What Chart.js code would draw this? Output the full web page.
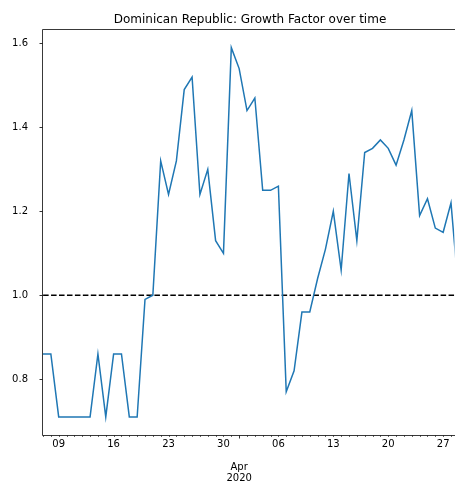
<!DOCTYPE html>
<html>
<head>
<meta charset="utf-8">
<script src="https://cdn.jsdelivr.net/npm/chart.js@4"></script>
<style>
html,body{margin:0;padding:0;background:#fff;overflow:hidden;}
canvas{display:block;}
</style>
</head>
<body>
<canvas id="c" width="455" height="481"></canvas>
<script>
// ---- data ----
const startDate = '2020-03-07';
const days = [
 '2020-03-07','2020-03-08','2020-03-09','2020-03-10','2020-03-11','2020-03-12','2020-03-13',
 '2020-03-14','2020-03-15','2020-03-16','2020-03-17','2020-03-18','2020-03-19','2020-03-20',
 '2020-03-21','2020-03-22','2020-03-23','2020-03-24','2020-03-25','2020-03-26','2020-03-27',
 '2020-03-28','2020-03-29','2020-03-30','2020-03-31','2020-04-01','2020-04-02','2020-04-03',
 '2020-04-04','2020-04-05','2020-04-06','2020-04-07','2020-04-08','2020-04-09','2020-04-10',
 '2020-04-11','2020-04-12','2020-04-13','2020-04-14','2020-04-15','2020-04-16','2020-04-17',
 '2020-04-18','2020-04-19','2020-04-20','2020-04-21','2020-04-22','2020-04-23','2020-04-24',
 '2020-04-25','2020-04-26','2020-04-27','2020-04-28','2020-04-29'
];
const growth = [
 0.86,0.86,0.71,0.71,0.71,0.71,0.71,
 0.86,0.71,0.86,0.86,0.71,0.71,0.99,
 1.00,1.32,1.24,1.32,1.49,1.52,1.24,
 1.30,1.13,1.10,1.59,1.54,1.44,1.47,
 1.25,1.25,1.26,0.77,0.82,0.96,0.96,
 1.04,1.11,1.20,1.06,1.29,1.13,1.34,
 1.35,1.37,1.35,1.31,1.37,1.44,1.19,
 1.23,1.16,1.15,1.22,1.00
];
const threshold = 1.0;
const weekTickDays = ['2020-03-09','2020-03-16','2020-03-23','2020-03-30','2020-04-06','2020-04-13','2020-04-20','2020-04-27'];
const weekTickLabels = ['09','16','23','30','06','13','20','27'];
const monthTickDay = '2020-04-01';
const monthTickLabel = ['', '', 'Apr', '2020'];
const yTicks = [0.8, 1.0, 1.2, 1.4, 1.6];
const yMin = 0.667, yMax = 1.632;
const xMaxDays = 52.44;
const title = 'Dominican Republic: Growth Factor over time';

// ---- helpers ----
const DAY = 86400000;
const t0 = Date.parse(startDate + 'T00:00:00Z');
const dayIndex = d => Math.round((Date.parse(d + 'T00:00:00Z') - t0) / DAY);
const labelMap = {};
weekTickDays.forEach((d, i) => labelMap[dayIndex(d)] = weekTickLabels[i]);
const monthIdx = dayIndex(monthTickDay);
labelMap[monthIdx] = monthTickLabel;
const lastDay = dayIndex(days[days.length - 1]);

const series = days.map((d, i) => ({x: dayIndex(d), y: growth[i]}));
const refLine = [{x: -1, y: threshold}, {x: lastDay + 5, y: threshold}];

const FONT = 'DejaVu Sans';

const axesPlugin = {
  id: 'mplAxes',
  afterDatasetsDraw(chart) {
    const {ctx, chartArea: a} = chart;
    const xs = chart.scales.x, ys = chart.scales.y;
    ctx.save();
    ctx.strokeStyle = '#000';
    // x ticks
    for (let i = 0; i <= Math.floor(xs.max); i++) {
      const px = Math.round(xs.getPixelForValue(i)) + 0.5;
      const major = (i === monthIdx);
      ctx.lineWidth = major ? 0.8 : 0.6;
      ctx.beginPath();
      ctx.moveTo(px, a.bottom);
      ctx.lineTo(px, a.bottom + (major ? 3.5 : 2));
      ctx.stroke();
    }
    // y ticks
    ctx.lineWidth = 0.8;
    yTicks.forEach(v => {
      const py = Math.round(ys.getPixelForValue(v)) + 0.5;
      ctx.beginPath();
      ctx.moveTo(a.left - 3.5, py);
      ctx.lineTo(a.left, py);
      ctx.stroke();
    });
    // spines
    ctx.lineWidth = 0.9;
    ctx.strokeStyle = '#222';
    ctx.beginPath();
    ctx.moveTo(a.left - 0.5, a.top - 0.5);
    ctx.lineTo(a.left - 0.5, a.bottom + 0.5);
    ctx.lineTo(a.right + 2, a.bottom + 0.5);
    ctx.moveTo(a.left - 0.5, a.top - 0.5);
    ctx.lineTo(a.right + 2, a.top - 0.5);
    ctx.stroke();
    ctx.restore();
  },
  afterDraw(chart) {
    const {ctx} = chart;
    ctx.save();
    ctx.fillStyle = '#000';
    ctx.font = '12px "' + FONT + '"';
    ctx.textAlign = 'center';
    ctx.textBaseline = 'middle';
    ctx.fillText(title, 250, 20);
    ctx.restore();
  }
};

new Chart(document.getElementById('c'), {
  type: 'line',
  data: {
    datasets: [
      {data: series, borderColor: '#1f77b4', borderWidth: 1.5, pointRadius: 0, tension: 0, fill: false},
      {data: refLine, borderColor: '#000', borderWidth: 1.5, borderDash: [5.55, 2.4], pointRadius: 0, fill: false}
    ]
  },
  options: {
    responsive: false,
    animation: false,
    layout: {padding: {top: 30, right: 0, left: 0, bottom: 0}},
    plugins: {legend: {display: false}, tooltip: {enabled: false}, title: {display: false}},
    scales: {
      x: {
        type: 'linear',
        min: 0,
        max: xMaxDays,
        grid: {display: false, drawTicks: false, tickLength: 0},
        border: {display: false},
        afterBuildTicks(scale) {
          const t = [];
          for (let i = 0; i <= Math.floor(xMaxDays); i++) t.push({value: i});
          scale.ticks = t;
        },
        afterFit(scale) { scale.height = 46; },
        ticks: {
          autoSkip: false,
          maxRotation: 0,
          minRotation: 0,
          padding: 4,
          color: '#000',
          font: {family: FONT, size: 10, lineHeight: 1.13},
          callback: v => (labelMap[v] !== undefined ? labelMap[v] : '')
        }
      },
      y: {
        min: yMin,
        max: yMax,
        grid: {display: false},
        border: {display: false},
        afterBuildTicks(scale) { scale.ticks = yTicks.map(v => ({value: v})); },
        afterFit(scale) { scale.width = 43; },
        ticks: {
          padding: 7,
          color: '#000',
          font: {family: FONT, size: 10},
          callback: v => v.toFixed(1)
        }
      }
    }
  },
  plugins: [axesPlugin]
});
</script>
</body>
</html>
